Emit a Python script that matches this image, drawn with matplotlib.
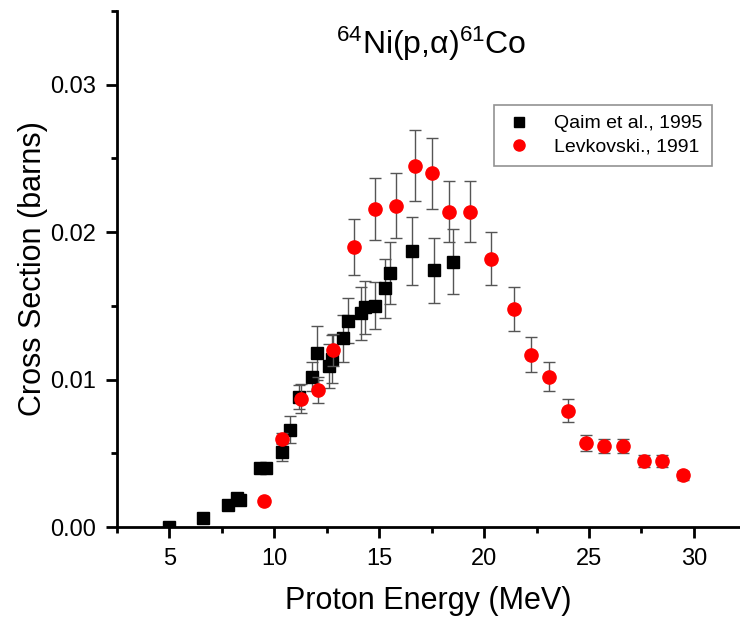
import matplotlib
matplotlib.use("Agg")
import matplotlib.pyplot as plt
from matplotlib.ticker import MultipleLocator
from matplotlib.lines import Line2D

plt.rcParams['font.family'] = ['Liberation Sans', 'DejaVu Sans']
plt.rcParams['mathtext.fontset'] = 'custom'
plt.rcParams['mathtext.rm'] = 'Liberation Sans'
plt.rcParams['mathtext.it'] = 'Liberation Sans:italic'

# Qaim et al., 1995
qaim_e = [5.0, 6.6, 7.8, 8.2, 8.35, 9.3, 9.6, 10.37, 10.75, 11.2, 11.8, 12.03,
          12.6, 12.74, 13.27, 13.5, 14.12, 14.3, 14.8, 15.26, 15.5, 16.54, 17.6, 18.54]
qaim_s = [0.0000, 0.0006, 0.0015, 0.0020, 0.0018, 0.0040, 0.0040, 0.0051, 0.0066, 0.0088,
          0.0102, 0.0118, 0.0109, 0.0114, 0.0128, 0.0140, 0.0145, 0.0149, 0.0150, 0.0162,
          0.0172, 0.0187, 0.0174, 0.0180]
qaim_err = [0.0, 0.0, 0.0, 0.0, 0.0, 0.0003, 0.0003, 0.0006, 0.0009, 0.0008,
            0.0010, 0.0018, 0.0015, 0.0016, 0.0016, 0.0015, 0.0018, 0.0018, 0.0016, 0.0020,
            0.0021, 0.0023, 0.0022, 0.0022]

# Levkovski, 1991
lev_e = [9.5, 10.38, 11.29, 12.08, 12.82, 13.8, 14.82, 15.82, 16.72, 17.51, 18.32, 19.31,
         20.33, 21.42, 22.23, 23.11, 24.02, 24.84, 25.73, 26.62, 27.61, 28.5, 29.5]
lev_s = [0.00176, 0.0060, 0.0087, 0.0093, 0.0120, 0.0190, 0.0216, 0.0218, 0.0245, 0.0240,
         0.0214, 0.0214, 0.0182, 0.0148, 0.0117, 0.0102, 0.0079, 0.0057, 0.0055, 0.0055,
         0.0045, 0.0045, 0.0035]
lev_err = [0.0001, 0.0004, 0.0010, 0.0009, 0.0011, 0.0019, 0.0021, 0.0022, 0.0024, 0.0024,
           0.0021, 0.0021, 0.0018, 0.0015, 0.0012, 0.0010, 0.00075, 0.00055, 0.0005, 0.0005,
           0.0004, 0.0004, 0.0003]

x_ticks = [5, 10, 15, 20, 25, 30]
y_ticks = [0.00, 0.01, 0.02, 0.03]

fig = plt.figure(figsize=(7.4, 6.17), dpi=100)
ax_l, ax_r, ax_b, ax_t = 117, 740, 527, 11
ax = fig.add_axes([ax_l/740, (617-ax_b)/617, (ax_r-ax_l)/740, (ax_b-ax_t)/617])

ekw = dict(ecolor='#555555', elinewidth=1.0, capsize=4, capthick=1.0)
ax.errorbar(qaim_e, qaim_s, yerr=qaim_err, fmt='s', color='black', ms=9,
            zorder=3, **ekw)
ax.errorbar(lev_e, lev_s, yerr=lev_err, fmt='o', color='red', ms=9.5,
            zorder=4, **ekw)

ax.set_xlim(2.5, 32.2)
ax.set_ylim(0, 0.035)
ax.set_xticks(x_ticks)
ax.set_yticks(y_ticks)
ax.xaxis.set_minor_locator(MultipleLocator(2.5))
ax.yaxis.set_minor_locator(MultipleLocator(0.005))
ax.yaxis.set_major_formatter(plt.FuncFormatter(lambda v, p: f"{v:.2f}"))

for s in ['top', 'right']:
    ax.spines[s].set_visible(False)
for s in ['left', 'bottom']:
    ax.spines[s].set_linewidth(2)

ax.tick_params(which='major', direction='out', length=8, width=2, labelsize=17, pad=7)
ax.tick_params(which='minor', direction='out', length=4, width=2)

ax.set_xlabel('Proton Energy (MeV)', fontsize=22, labelpad=12)
ax.set_ylabel('Cross Section (barns)', fontsize=22, labelpad=1.5)

ax.text((431 - ax_l) / (ax_r - ax_l), (ax_b - 44) / (ax_b - ax_t),
        r'$^{64}$Ni(p,α)$^{61}$Co', transform=ax.transAxes,
        ha='center', va='center', fontsize=23)

handles = [Line2D([], [], ls='none', marker='s', color='black', ms=7),
           Line2D([], [], ls='none', marker='o', color='red', ms=8)]
leg = ax.legend(handles, ['Qaim et al., 1995', 'Levkovski., 1991'],
                loc='upper left',
                bbox_to_anchor=((494 - ax_l) / (ax_r - ax_l), (ax_b - 105) / (ax_b - ax_t)),
                borderaxespad=0, fontsize=14, frameon=True, fancybox=False,
                edgecolor='#777777', borderpad=0.5, handletextpad=1.0,
                labelspacing=0.3, handlelength=1.6)
leg.get_frame().set_linewidth(1.2)

fig.savefig('out.png', dpi=100)
